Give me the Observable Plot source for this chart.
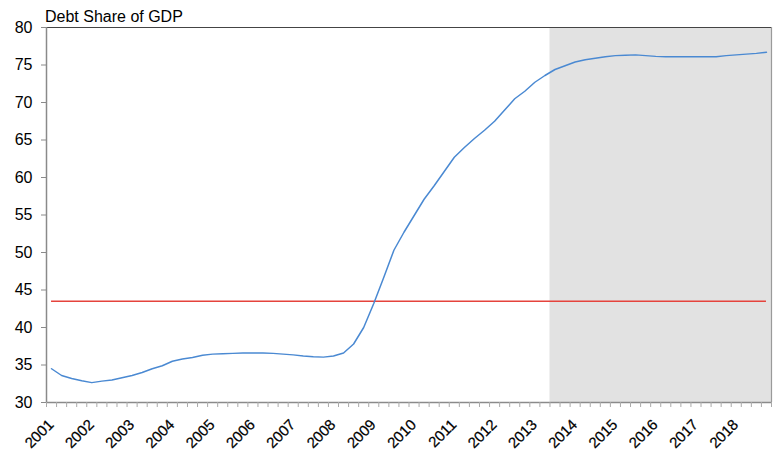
<!DOCTYPE html>
<html>
<head>
<meta charset="utf-8">
<script src="https://cdn.jsdelivr.net/npm/d3@7"></script>
<script src="https://cdn.jsdelivr.net/npm/@observablehq/plot@0.6"></script>
<style>
  html, body { margin: 0; padding: 0; background: #fff; }
  #wrap { position: relative; width: 775px; height: 452px; font-family: "Liberation Sans", Arial, Helvetica, sans-serif; }
  #title { position: absolute; left: 45px; top: 9px; font-size: 16px; line-height: 16px; color: #000; white-space: nowrap; }
  #chart { position: absolute; left: 0; top: 0; }
</style>
</head>
<body>
<div id="wrap">
  <div id="chart"></div>
  <div id="title">Debt Share of GDP</div>
</div>
<script>
const years = ["2001","2002","2003","2004","2005","2006","2007","2008","2009",
               "2010","2011","2012","2013","2014","2015","2016","2017","2018"];
// quarterly debt share of GDP, 2001Q1 .. 2018Q4
const debtShare = [
  34.5, 33.6, 33.2, 32.9,   32.65, 32.85, 33.0, 33.3,
  33.6, 34.0, 34.5, 34.9,   35.5, 35.8, 36.0, 36.3,
  36.45, 36.5, 36.55, 36.6, 36.6, 36.6, 36.55, 36.45,
  36.35, 36.2, 36.1, 36.05, 36.2, 36.6, 37.8, 40.0,
  43.2, 46.7, 50.3, 52.7,   54.9, 57.1, 58.9, 60.8,
  62.7, 64.0, 65.2, 66.3,   67.5, 69.0, 70.5, 71.5,
  72.7, 73.6, 74.4, 74.9,   75.4, 75.7, 75.9, 76.1,
  76.25, 76.3, 76.35, 76.25, 76.15, 76.1, 76.1, 76.1,
  76.1, 76.1, 76.1, 76.25,  76.35, 76.45, 76.55, 76.7
];
const threshold = 43.5;          // reference level
const forecastStartQuarter = 50; // 2013Q3 (index from 2001Q1)
const yTicks = [30, 35, 40, 45, 50, 55, 60, 65, 70, 75, 80];

const nQ = debtShare.length;
const series = debtShare.map((v, i) => ({q: i + 0.5, v}));
const yearLabels = years.map((y, i) => ({q: i * 4 + 0.5, label: y}));

const chart = Plot.plot({
  width: 775,
  height: 452,
  marginLeft: 46,
  marginRight: 4,
  marginTop: 27,
  marginBottom: 50,
  style: {fontFamily: "Liberation Sans, Arial, Helvetica, sans-serif", background: "transparent", color: "#000"},
  x: {type: "linear", domain: [0, nQ], axis: null},
  y: {domain: [30, 80], axis: null},
  marks: [
    Plot.rect([{x1: forecastStartQuarter, x2: nQ}], {x1: "x1", x2: "x2", y1: 30, y2: 80, fill: "#e2e2e2"}),
    Plot.ruleY([threshold], {x1: 0.5, x2: nQ - 0.5, stroke: "#e5433c", strokeWidth: 1.5}),
    Plot.line(series, {x: "q", y: "v", stroke: "#4a89d2", strokeWidth: 1.5, curve: "linear"}),
    Plot.ruleX([nQ], {stroke: "#9a9a9a", strokeWidth: 1.2}),
    Plot.ruleY([80], {stroke: "#444", strokeWidth: 1.2}),
    Plot.ruleY([30], {stroke: "#8a8a8a", strokeWidth: 1.5}),
    Plot.ruleX([0], {stroke: "#8a8a8a", strokeWidth: 1.5}),
    Plot.axisY({ticks: yTicks, label: null, tickSize: 5, tickPadding: 9, fontSize: 16, stroke: "#8a8a8a", fill: "#000", tickFormat: d => String(d)}),
    Plot.axisX({ticks: d3.range(0, nQ + 1), label: null, tickSize: 5, stroke: "#aaa", tickFormat: () => ""}),
    Plot.text(yearLabels, {x: "q", text: "label", frameAnchor: "bottom", rotate: -45, textAnchor: "end", lineAnchor: "bottom", dx: 3, dy: 23, fontSize: 15, fill: "#000", stroke: "#000", strokeWidth: 0.2})
  ]
});
document.getElementById("chart").appendChild(chart);
</script>
</body>
</html>
